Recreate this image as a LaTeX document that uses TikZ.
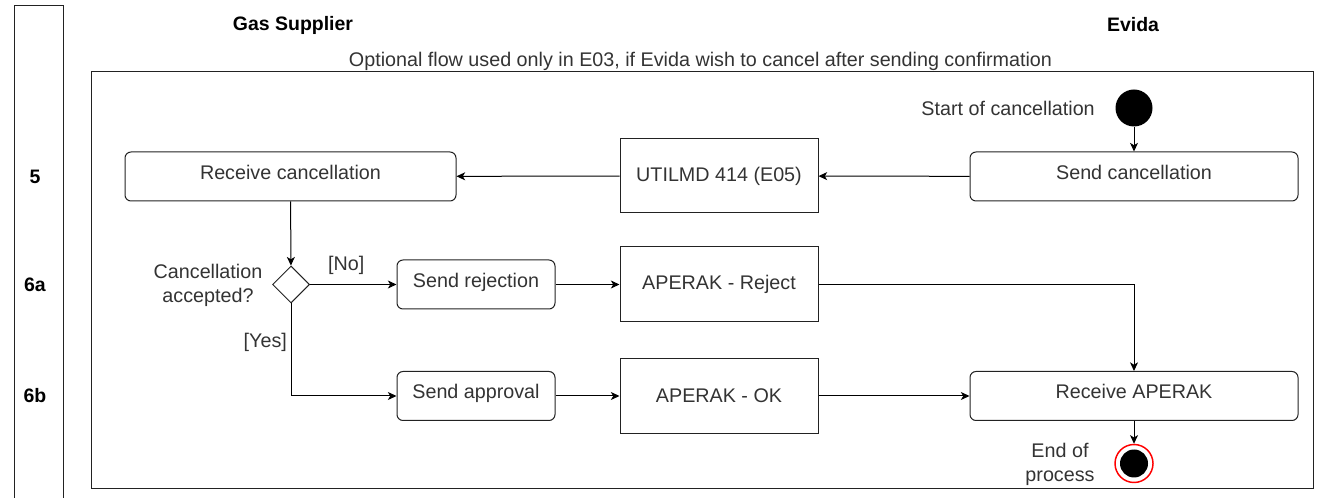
\documentclass[tikz,border=0pt]{standalone}
\usepackage{fontspec}
\setmainfont{Liberation Sans}
\usepackage{xcolor}
\usetikzlibrary{shapes.geometric}
\usetikzlibrary{arrows.meta}

\definecolor{txtgray}{RGB}{51,51,51}
\definecolor{linegray}{RGB}{34,34,34}

\tikzset{
  actbox/.style={draw=linegray, line width=0.75pt, rounded corners=4.5pt, text=txtgray,
    minimum height=36.75pt, text height=10pt, text depth=6pt, inner sep=0pt},
  msgbox/.style={draw=linegray, line width=0.75pt, text=txtgray, minimum width=148.5pt, inner sep=0pt},
  flow/.style={draw=black, line width=0.75pt, -{Stealth[length=6.5pt,width=6pt,inset=1.8pt]}},
  lbl/.style={text=txtgray, inner sep=0.75pt},
  lanehead/.style={font=\fontsize{14.6}{17.5}\selectfont\bfseries, inner sep=0.75pt},
}

\begin{document}
\begin{tikzpicture}[x=0.75pt,y=0.75pt,yscale=-1,xscale=1,font=\fontsize{14.8}{18}\selectfont]
\useasboundingbox (0,0) rectangle (1324,498);

%Shape: Column of steps
\draw [linegray, line width=0.75pt] (14,498) -- (14,6) -- (63,6) -- (63,498) ;
%Shape: Frame
\draw [linegray, line width=0.75pt] (91,72) rectangle (1313,489) ;

% Text Node
\node [lanehead] (gs) at (293,25) {Gas Supplier};
% Text Node
\node [lanehead] (ev) at (1133,25) {Evida};
% Text Node
\node [lbl] (title) at (700.5,61) {Optional flow used only in E03, if Evida wish to cancel after sending confirmation};
% Text Node
\node [lanehead] (s5) at (35,177) {5};
% Text Node
\node [lanehead] (s6a) at (35,285) {6a};
% Text Node
\node [lanehead] (s6b) at (35,396) {6b};

%Shape: Circle
\node [circle, fill=black, minimum size=27.75pt, inner sep=0pt] (start) at (1134,108) {};
% Text Node
\node [lbl, anchor=east] (starttxt) at (1096,108) {Start of cancellation};

%Shape: Rounded Rect
\node [actbox, minimum width=246pt] (sendc) at (1134,176.5) {Send cancellation};
%Shape: Rectangle
\node [msgbox, minimum height=55.5pt] (utilmd) at (719,176) {UTILMD 414 (E05)};
%Shape: Rounded Rect
\node [actbox, minimum width=248.25pt] (recvc) at (290.5,176.5) {Receive cancellation};

%Shape: Diamond
\node [diamond, draw=linegray, line width=0.75pt, minimum width=27.75pt, minimum height=27.75pt, inner sep=0pt] (dec) at (291,284.5) {};
% Text Node
\node [lbl, align=center] (dectxt) at (208,285) {Cancellation\\accepted?};

%Shape: Rounded Rect
\node [actbox, minimum width=118.5pt] (sendrej) at (476,284.5) {Send rejection};
%Shape: Rounded Rect
\node [actbox, minimum width=118.5pt] (sendapp) at (476,396) {Send approval};
%Shape: Rectangle
\node [msgbox, minimum height=56.25pt] (aprej) at (719,284.5) {APERAK - Reject};
%Shape: Rectangle
\node [msgbox, minimum height=56.25pt] (apok) at (719,396) {APERAK - OK};
%Shape: Rounded Rect
\node [actbox, minimum width=246pt] (recva) at (1134,396) {Receive APERAK};

%Shape: End
\node [circle, draw=red, fill=white, line width=1.1pt, minimum size=28.5pt, inner sep=0pt] (endo) at (1134,463.5) {};
\node [circle, fill=black, minimum size=21pt, inner sep=0pt] (endi) at (endo.center) {};
% Text Node
\node [lbl, align=center] (endtxt) at (1060,464) {End of\\process};

%Straight Lines
\draw [flow] (start) -- (sendc) ;
\draw [flow] (sendc) -- (utilmd) ;
\draw [flow] (utilmd) -- (recvc) ;
\draw [flow] (recvc) -- (dec) ;
\draw [flow] (dec) -- node [lbl, above=6pt, pos=0.42] {[No]} (sendrej) ;
\draw [flow] (dec) |- node [lbl, left=2pt, pos=0.21] {[Yes]} (sendapp) ;
\draw [flow] (sendrej) -- (aprej) ;
\draw [flow] (sendapp) -- (apok) ;
\draw [flow] (aprej) -| (recva) ;
\draw [flow] (apok) -- (recva) ;
\draw [flow] (recva) -- (endo) ;

\end{tikzpicture}
\end{document}
